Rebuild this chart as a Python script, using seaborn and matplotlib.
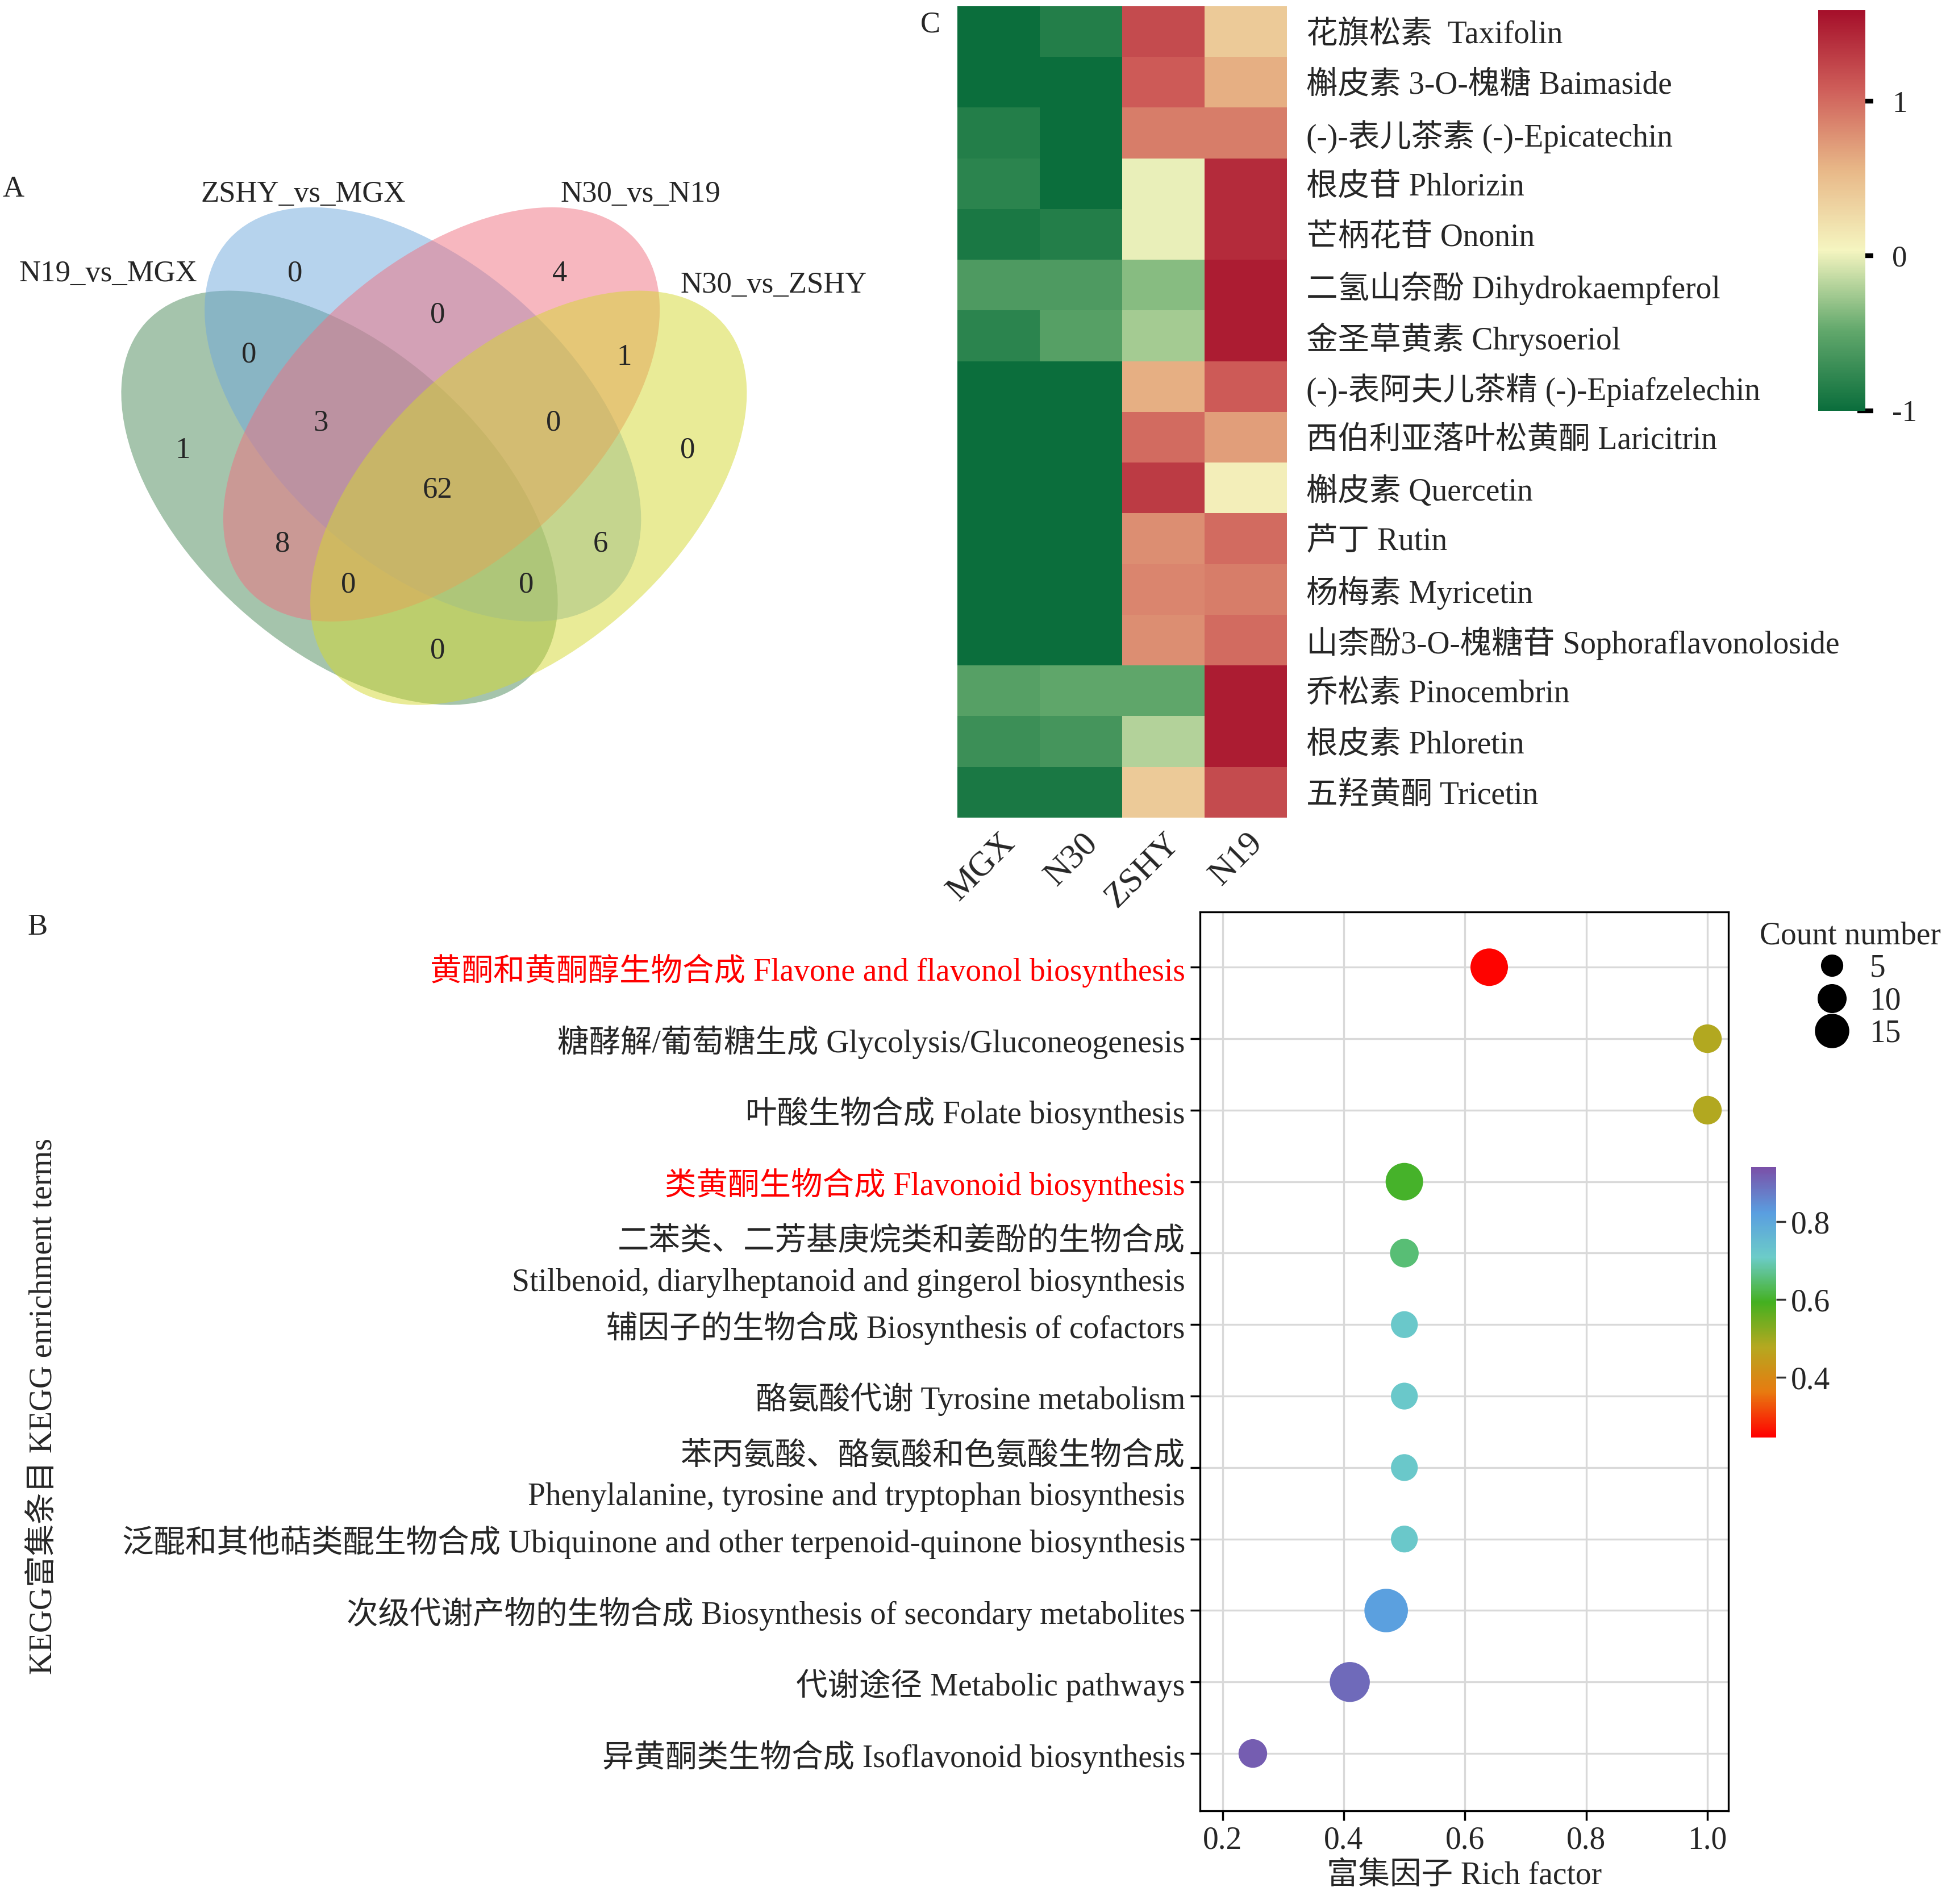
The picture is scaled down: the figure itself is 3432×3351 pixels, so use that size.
import numpy as np
import pandas as pd
import seaborn as sns
import matplotlib.pyplot as plt
from matplotlib.patches import Ellipse
from matplotlib.colors import LinearSegmentedColormap, Normalize
from matplotlib.cm import ScalarMappable
from matplotlib.lines import Line2D

# heatmap data
compounds = ['花旗松素  Taxifolin', '槲皮素 3-O-槐糖 Baimaside', '(-)-表儿茶素 (-)-Epicatechin',
             '根皮苷 Phlorizin', '芒柄花苷 Ononin', '二氢山奈酚 Dihydrokaempferol',
             '金圣草黄素 Chrysoeriol', '(-)-表阿夫儿茶精 (-)-Epiafzelechin',
             '西伯利亚落叶松黄酮 Laricitrin', '槲皮素 Quercetin', '芦丁 Rutin', '杨梅素 Myricetin',
             '山柰酚3-O-槐糖苷 Sophoraflavonoloside', '乔松素 Pinocembrin', '根皮素 Phloretin',
             '五羟黄酮 Tricetin']
samples = ['MGX', 'N30', 'ZSHY', 'N19']
mgx = [-1.0, -1.0, -0.85, -0.8, -0.9, -0.6, -0.8, -1.0, -1.0, -1.0, -1.0, -1.0, -1.0, -0.55, -0.7, -0.9]
n30 = [-0.85, -1.0, -1.2, -1.0, -0.85, -0.6, -0.55, -1.0, -1.0, -1.0, -1.0, -1.0, -1.0, -0.5, -0.65, -0.9]
zshy = [1.2, 1.1, 0.9, 0.0, 0.0, -0.35, -0.25, 0.6, 1.0, 1.3, 0.8, 0.85, 0.8, -0.5, -0.2, 0.4]
n19 = [0.4, 0.6, 0.9, 1.4, 1.4, 1.5, 1.5, 1.1, 0.7, 0.1, 1.0, 0.9, 1.0, 1.5, 1.5, 1.2]

# KEGG data
terms = ['黄酮和黄酮醇生物合成 Flavone and flavonol biosynthesis',
         '糖酵解/葡萄糖生成 Glycolysis/Gluconeogenesis',
         '叶酸生物合成 Folate biosynthesis',
         '类黄酮生物合成 Flavonoid biosynthesis',
         '二苯类、二芳基庚烷类和姜酚的生物合成\nStilbenoid, diarylheptanoid and gingerol biosynthesis',
         '辅因子的生物合成 Biosynthesis of cofactors',
         '酪氨酸代谢 Tyrosine metabolism',
         '苯丙氨酸、酪氨酸和色氨酸生物合成\nPhenylalanine, tyrosine and tryptophan biosynthesis',
         '泛醌和其他萜类醌生物合成 Ubiquinone and other terpenoid-quinone biosynthesis',
         '次级代谢产物的生物合成 Biosynthesis of secondary metabolites',
         '代谢途径 Metabolic pathways',
         '异黄酮类生物合成 Isoflavonoid biosynthesis']
rich = [0.64, 1.0, 1.0, 0.5, 0.5, 0.5, 0.5, 0.5, 0.5, 0.47, 0.41, 0.25]
pval = [0.25, 0.48, 0.48, 0.6, 0.65, 0.72, 0.72, 0.72, 0.72, 0.82, 0.9, 0.92]
counts = [12, 6, 6, 12, 6, 5, 5, 5, 5, 17, 14, 6]

# venn data
venn_labels = ['N19_vs_MGX', 'ZSHY_vs_MGX', 'N30_vs_N19', 'N30_vs_ZSHY']
venn_counts = [1, 0, 4, 0, 0, 0, 1, 3, 0, 62, 8, 6, 0, 0, 0]

sns.set_theme(style='whitegrid')
plt.rcParams['font.family'] = ['Liberation Serif', 'Noto Sans CJK SC']
plt.rcParams['axes.unicode_minus'] = False

W, H = 1568, 1530
fig = plt.figure(figsize=(17.16, 16.755), dpi=200)
fs = 19

def rect(x0, y0, x1, y1):
    return [x0 / W, 1 - y1 / H, (x1 - x0) / W, (y1 - y0) / H]

# overlay for venn and letters
ov = fig.add_axes([0, 0, 1, 1])
ov.set_xlim(0, W)
ov.set_ylim(H, 0)
ov.axis('off')
ells = [((273, 400), 420, 240, 42, '#4d8a5a'),
        ((340, 333), 420, 240, 42, '#6fa8dc'),
        ((355, 333), 420, 240, -42, '#f07080'),
        ((425, 400), 420, 240, -42, '#d4d830')]
for c, w, h, a, col in ells:
    ov.add_patch(Ellipse(c, w, h, angle=a, facecolor=col, alpha=0.5, edgecolor='none'))
pos = [(147, 362), (237, 220), (450, 220), (553, 362), (200, 285), (352, 253), (502, 287),
       (258, 340), (445, 340), (352, 394), (227, 437), (483, 437), (280, 470), (423, 470), (352, 523)]
for (x, y), v in zip(pos, venn_counts):
    ov.text(x, y, str(v), ha='center', va='center', fontsize=fs)
for (x, y), t in zip([(87, 220), (244, 156), (515, 156), (622, 229)], venn_labels):
    ov.text(x, y, t, ha='center', va='center', fontsize=fs)
ov.text(2, 152, 'A', fontsize=fs, va='center')
ov.text(22, 745, 'B', fontsize=fs, va='center')
ov.text(740, 20, 'C', fontsize=fs, va='center')

# heatmap
hm = pd.DataFrame({'MGX': mgx, 'N30': n30, 'ZSHY': zshy, 'N19': n19}, index=compounds)
cmap_h = LinearSegmentedColormap.from_list('h', ['#0b6e3c', '#62a86c', '#f5f5c0', '#e8b888', '#cf5f5a', '#a50f2a'])
axh = fig.add_axes(rect(770, 5, 1035, 657))
cax = fig.add_axes(rect(1462, 8, 1500, 330))
sns.heatmap(hm, ax=axh, cmap=cmap_h, vmin=-1.0, vmax=1.59, cbar_ax=cax, linewidths=0)
axh.yaxis.tick_right()
axh.set_yticklabels(compounds, rotation=0, fontsize=fs + 1)
axh.tick_params(axis='y', length=0, pad=12)
axh.set_xticklabels(samples, rotation=45, ha='right', rotation_mode='anchor', fontsize=fs + 3)
axh.tick_params(axis='x', length=0, pad=6)
cax.set_yticks([-1, 0, 1])
cax.set_yticklabels(['-1', '0', '1'], fontsize=fs)
cax.tick_params(axis='y', length=10, width=3, color='black', direction='inout', pad=12)

# dot plot
df = pd.DataFrame({'term': terms, 'rich': rich, 'p': pval, 'count': counts, 'y': np.arange(len(terms))})
cmap_d = LinearSegmentedColormap.from_list('d', ['#ff0000', '#e87a10', '#b5a820', '#44b020', '#6cccc8', '#5a9ee0', '#7a50a8'])
norm = Normalize(0.246, 0.94)
axd = fig.add_axes(rect(965, 733, 1390, 1455))
sns.scatterplot(data=df, x='rich', y='y', hue='p', palette=cmap_d, hue_norm=norm,
                size='count', sizes=(250, 800), size_norm=(4, 18), ax=axd, legend=False, edgecolor='none')
axd.set_xlim(0.163, 1.035)
axd.set_ylim(11.8, -0.77)
axd.set_xticks([0.2, 0.4, 0.6, 0.8, 1.0])
axd.set_xticklabels(['0.2', '0.4', '0.6', '0.8', '1.0'], fontsize=fs + 1)
axd.set_yticks(df['y'])
axd.set_yticklabels(terms, fontsize=fs + 1, ha='right', linespacing=1.5)
for i, lab in enumerate(axd.get_yticklabels()):
    if i in (0, 3):
        lab.set_color('red')
axd.tick_params(axis='both', length=6, color='black', bottom=True, left=True)
axd.set_xlabel('富集因子 Rich factor', fontsize=fs + 1)
axd.set_ylabel('KEGG富集条目 KEGG enrichment terms', fontsize=fs + 1)
axd.yaxis.set_label_coords(-2.16, 0.45)
axd.set_facecolor('white')
for s in axd.spines.values():
    s.set_color('black')
    s.set_linewidth(1.2)
axd.grid(color='#d9d9d9', linewidth=1.2)

cax2 = fig.add_axes(rect(1408, 938, 1428, 1155))
cb = fig.colorbar(ScalarMappable(norm=norm, cmap=cmap_d), cax=cax2)
cb.set_ticks([0.4, 0.6, 0.8])
cb.ax.tick_params(labelsize=fs + 1, length=6, color='#333333')
cb.outline.set_visible(False)

def msz(c):
    s = 180 + (c - 4) / 14 * 450
    return np.sqrt(s) * 0.9
handles = [Line2D([], [], marker='o', ls='', color='black', markersize=msz(c)) for c in (5, 10, 15)]
fig.legend(handles, ['5', '10', '15'], title='Count number', loc='upper left',
           bbox_to_anchor=(1405 / W, 1 - 730 / H), frameon=False, fontsize=fs + 1,
           title_fontsize=fs + 1, handletextpad=0.2, labelspacing=0.1, borderaxespad=0)

fig.savefig('out.png', dpi=200)
